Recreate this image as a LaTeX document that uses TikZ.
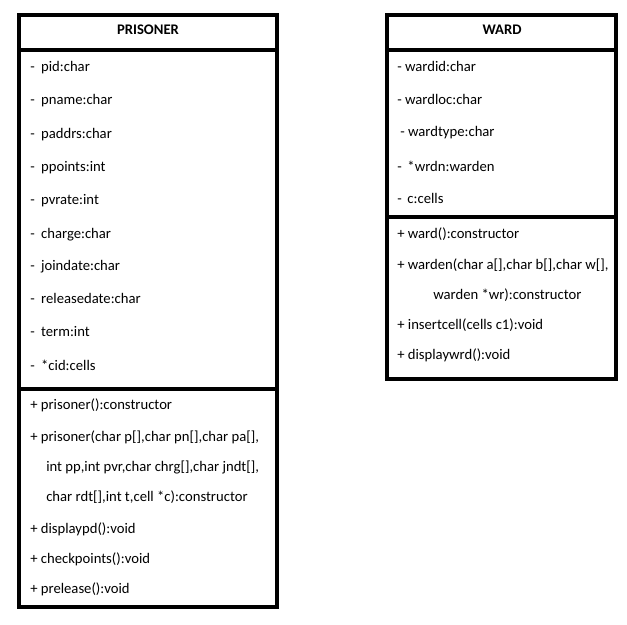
\documentclass[tikz,border=0pt]{standalone}
\usepackage{fontspec}
\setmainfont{Carlito}
\usepackage{tikz}
\tikzstyle{box} = [line width=2.4pt]
\tikzstyle{member} = [anchor=base west, inner sep=0pt, font=\fontsize{11}{13}\selectfont]
\tikzstyle{title} = [anchor=base, inner sep=0pt, font=\fontsize{11}{13}\selectfont\bfseries]

\begin{document}
\begin{tikzpicture}[x=0.75pt, y=-0.75pt]
    \useasboundingbox (0,0) rectangle (627,624);

      % Boxes
      \coordinate (P1) at (19,15);
      \coordinate (P2) at (277,607);
      \coordinate (W1) at (387,15);
      \coordinate (W2) at (616,379);
      \draw[box] (P1) rectangle (P2);
      \draw[box] (19,50) -- (277,50);
      \draw[box] (19,389) -- (277,389);
      \draw[box] (W1) rectangle (W2);
      \draw[box] (387,50) -- (616,50);
      \draw[box] (387,217) -- (616,217);

      % PRISONER
      \node[title] (ptitle) at (148,35) {PRISONER};
      \node[member] (pid) at (30,72) {-\hspace{4.8pt}pid:char};
      \node[member] (pname) at (30,105) {-\hspace{4.8pt}pname:char};
      \node[member] (paddrs) at (30,138) {-\hspace{4.8pt}paddrs:char};
      \node[member] (ppoints) at (30,171) {-\hspace{4.8pt}ppoints:int};
      \node[member] (pvrate) at (30,204) {-\hspace{4.8pt}pvrate:int};
      \node[member] (charge) at (30,238) {-\hspace{4.8pt}charge:char};
      \node[member] (joindate) at (30,270) {-\hspace{4.8pt}joindate:char};
      \node[member] (releasedate) at (30,303) {-\hspace{4.8pt}releasedate:char};
      \node[member] (term) at (30,336) {-\hspace{4.8pt}term:int};
      \node[member] (cid) at (30,370) {-\hspace{4.8pt}*cid:cells};

      \node[member] (prisoner) at (30,409) {+ prisoner():constructor};
      \node[member] (prisonerA) at (30,441) {+ prisoner(char p[],char pn[],char pa[],};
      \node[member] (prisonerB) at (46,471) {int pp,int pvr,char chrg[],char jndt[],};
      \node[member] (prisonerC) at (46,501) {char rdt[],int t,cell *c):constructor};
      \node[member] (displaypd) at (30,533) {+ displaypd():void};
      \node[member] (checkpoints) at (30,563) {+ checkpoints():void};
      \node[member] (prelease) at (30,593) {+ prelease():void};

      % WARD
      \node[title] (wtitle) at (502,35) {WARD};
      \node[member] (wardid) at (397,72) {- wardid:char};
      \node[member] (wardloc) at (397,105) {- wardloc:char};
      \node[member] (wardtype) at (400,137) {- wardtype:char};
      \node[member] (wrdn) at (397,171) {-\hspace{4.3pt}*wrdn:warden};
      \node[member] (cells) at (397,203) {-\hspace{4.3pt}c:cells};

      \node[member] (ward) at (397,238) {+ ward():constructor};
      \node[member] (wardenA) at (397,269) {+ warden(char a[],char b[],char w[],};
      \node[member] (wardenB) at (433,299) {warden *wr):constructor};
      \node[member] (insertcell) at (397,329) {+ insertcell(cells c1):void};
      \node[member] (displaywrd) at (397,359) {+ displaywrd():void};

  \end{tikzpicture}
\end{document}
